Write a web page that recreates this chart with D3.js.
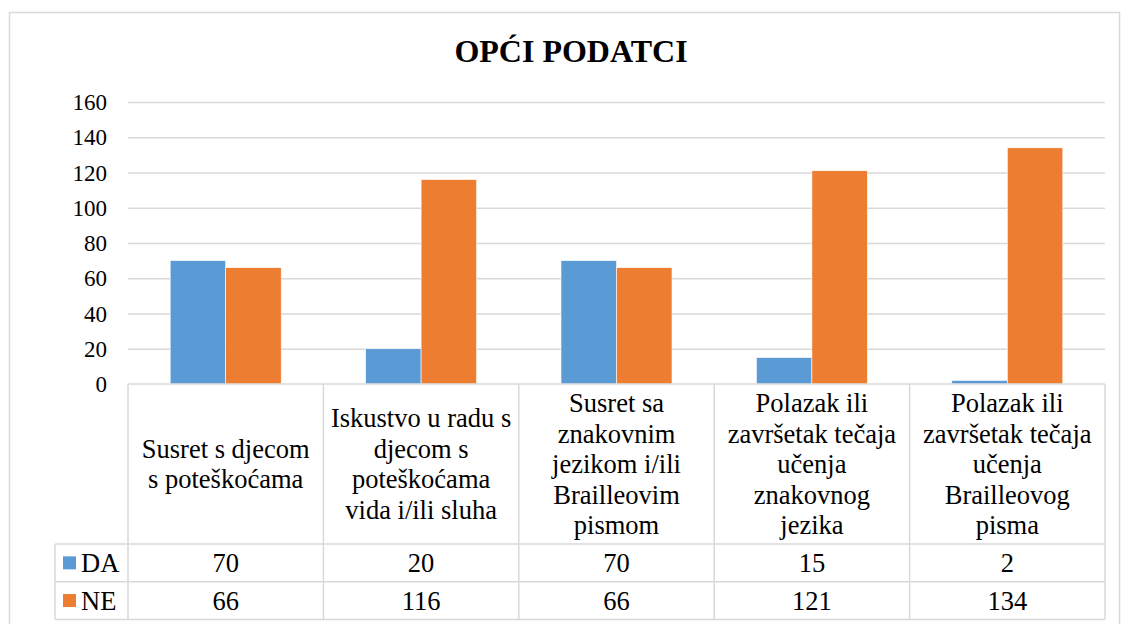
<!DOCTYPE html>
<html>
<head>
    <meta charset="utf-8">
    <title>OPĆI PODATCI</title>
    <style>
        body {
            margin: 0;
            background: #fff;
        }

        .grid line {
            stroke: #d9d9d9;
            stroke-width: 1.5px;
        }

        .grid path {
            display: none;
        }

        .tbl line {
            stroke: #d9d9d9;
            stroke-width: 1.5px;
        }
    </style>
    <script src="https://d3js.org/d3.v7.min.js"></script>
</head>
<body>
    <script>
        "use strict";
        // data
        const categories = [
            "Susret s djecom\ns poteškoćama",
            "Iskustvo u radu s\ndjecom s\npoteškoćama\nvida i/ili sluha",
            "Susret sa\nznakovnim\njezikom i/ili\nBrailleovim\npismom",
            "Polazak ili\nzavršetak tečaja\nučenja\nznakovnog\njezika",
            "Polazak ili\nzavršetak tečaja\nučenja\nBrailleovog\npisma"
        ];
        const seriesNames = ["DA", "NE"];
        const daValues = [70, 20, 70, 15, 2];
        const neValues = [66, 116, 66, 121, 134];
        const yTicks = [0, 20, 40, 60, 80, 100, 120, 140, 160];
        const colors = { DA: "#5b9bd5", NE: "#ed7d31" };

        const FONT = "'Liberation Serif', 'Times New Roman', serif";
        const W = 1122, H = 624;
        const plot = { left: 128, right: 1105, top: 102, bottom: 384 };
        const table = { left: 55, headBottom: 544, rowH: 37.7 };

        const rows = seriesNames.map(function (s, i) {
            return { name: s, values: i === 0 ? daValues : neValues };
        });

        const svg = d3.select("body").append("svg")
            .attr("width", W)
            .attr("height", H)
            .style("font-family", FONT);

        // outer frame
        svg.append("rect")
            .attr("x", 9.5).attr("y", 12.5)
            .attr("width", 1110).attr("height", 620)
            .attr("fill", "none")
            .attr("stroke", "#d9d9d9")
            .attr("stroke-width", 1.5);

        svg.append("text")
            .attr("x", 571)
            .attr("y", 62)
            .attr("text-anchor", "middle")
            .style("font-family", FONT)
            .style("font-size", "32px")
            .style("font-weight", "bold")
            .text("OPĆI PODATCI");

        const x0 = d3.scaleBand()
            .domain(d3.range(categories.length))
            .range([plot.left, plot.right])
            .padding(0);

        const x1 = d3.scaleBand()
            .domain(seriesNames)
            .range([0, x0.bandwidth()])
            .paddingInner(0)
            .paddingOuter(0.76);

        const y = d3.scaleLinear()
            .domain([0, 160])
            .range([plot.bottom, plot.top]);

        // gridlines
        svg.append("g")
            .attr("class", "grid")
            .attr("transform", "translate(" + plot.left + ",0)")
            .call(d3.axisLeft(y).tickValues(yTicks.slice(1)).tickSize(-(plot.right - plot.left)).tickFormat(""));

        // y tick labels
        svg.append("g")
            .selectAll("text")
            .data(yTicks)
            .join("text")
            .attr("x", 107)
            .attr("y", function (d) { return y(d); })
            .attr("dy", "0.35em")
            .attr("text-anchor", "end")
            .style("font-family", FONT)
            .style("font-size", "23px")
            .text(function (d) { return d; });

        // bars
        const groups = svg.append("g")
            .selectAll("g")
            .data(categories.map(function (c, i) { return i; }))
            .join("g")
            .attr("transform", function (i) { return "translate(" + x0(i) + ",0)"; });

        groups.selectAll("rect")
            .data(function (i) {
                return rows.map(function (r) { return { key: r.name, value: r.values[i] }; });
            })
            .join("rect")
            .attr("x", function (d) { return x1(d.key); })
            .attr("width", x1.bandwidth())
            .attr("y", function (d) { return y(d.value); })
            .attr("height", function (d) { return y(0) - y(d.value); })
            .attr("fill", function (d) { return colors[d.key]; })
            .attr("stroke", "#fff")
            .attr("stroke-width", 0.6);

        // data table
        const tbl = svg.append("g").attr("class", "tbl");
        const tableBottom = table.headBottom + rows.length * table.rowH;

        // horizontal lines
        tbl.append("line")
            .attr("x1", plot.left).attr("x2", plot.right)
            .attr("y1", plot.bottom).attr("y2", plot.bottom);
        d3.range(rows.length + 1).forEach(function (k) {
            const yy = table.headBottom + k * table.rowH;
            tbl.append("line")
                .attr("x1", table.left).attr("x2", plot.right)
                .attr("y1", yy).attr("y2", yy);
        });
        // vertical lines
        tbl.append("line")
            .attr("x1", table.left).attr("x2", table.left)
            .attr("y1", table.headBottom).attr("y2", tableBottom);
        d3.range(categories.length + 1).forEach(function (k) {
            const xx = plot.left + k * x0.step();
            tbl.append("line")
                .attr("x1", xx).attr("x2", xx)
                .attr("y1", plot.bottom).attr("y2", tableBottom);
        });

        // header labels
        const headCenter = (plot.bottom + table.headBottom) / 2;
        const lineH = 30.5;
        categories.forEach(function (c, i) {
            const lines = c.split("\n");
            const t = svg.append("text")
                .attr("text-anchor", "middle")
                .style("font-family", FONT)
                .style("font-size", "26.5px");
            lines.forEach(function (ln, j) {
                t.append("tspan")
                    .attr("x", x0(i) + x0.bandwidth() / 2)
                    .attr("y", headCenter + (j - (lines.length - 1) / 2) * lineH + 9)
                    .text(ln);
            });
        });

        // rows
        rows.forEach(function (r, k) {
            const cy = table.headBottom + (k + 0.5) * table.rowH;
            svg.append("rect")
                .attr("x", 63).attr("y", cy - 6.5)
                .attr("width", 13).attr("height", 13)
                .attr("fill", colors[r.name]);
            svg.append("text")
                .attr("x", 81)
                .attr("y", cy)
                .attr("dy", "0.35em")
                .style("font-family", FONT)
                .style("font-size", "26.5px")
                .text(r.name);
            svg.append("g")
                .selectAll("text")
                .data(r.values)
                .join("text")
                .attr("x", function (d, i) { return x0(i) + x0.bandwidth() / 2; })
                .attr("y", cy)
                .attr("dy", "0.35em")
                .attr("text-anchor", "middle")
                .style("font-family", FONT)
                .style("font-size", "26.5px")
                .text(function (d) { return d; });
        });
    </script>
</body>
</html>
